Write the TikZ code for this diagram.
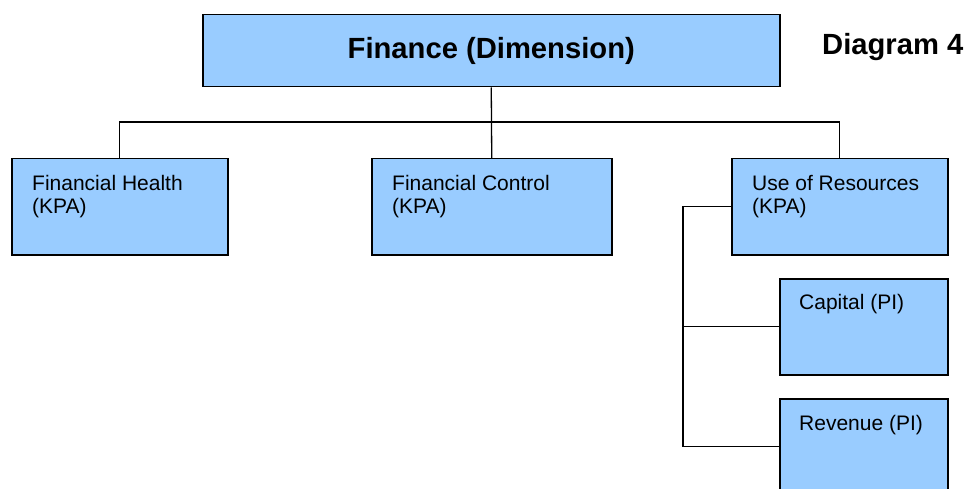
\documentclass[tikz,border=0pt]{standalone}
\usepackage{fontspec}
\setmainfont{Liberation Sans}
\definecolor{boxblue}{RGB}{153,204,255}
\begin{document}
\begin{tikzpicture}[x=1pt,y=-1pt,
  box/.style={draw=black,line width=1.5pt,fill=boxblue,rectangle,inner sep=0pt,anchor=north west,minimum height=96pt},
  kpabox/.style={box,minimum width=216pt},
  pibox/.style={box,minimum width=168pt},
  lbl/.style={anchor=north west,inner sep=0pt,align=left,font=\fontsize{21}{23.5}\selectfont},
  conn/.style={draw=black,line width=1.3pt},
  bigtxt/.style={font=\fontsize{29.2}{34}\selectfont\bfseries}]
\useasboundingbox (0,0) rectangle (977,489);
% top box
\node[box,minimum width=577pt,minimum height=72pt,bigtxt,anchor=north west] (top) at (202,14) {Finance (Dimension)};
\node[bigtxt,anchor=base west,inner sep=0pt] (diag) at (822,55) {Diagram 4};
% KPA boxes
\node[kpabox] (fh) at (11,158) {};
\node[kpabox,minimum width=240pt] (fc) at (371,158) {};
\node[kpabox] (uor) at (731,158) {};
% PI boxes
\node[pibox] (cap) at (779,278) {};
\node[pibox] (rev) at (779,398) {};
% labels
\node[lbl] (fhl) at ([xshift=21pt,yshift=-17pt]fh.north west) {Financial Health\\(KPA)};
\node[lbl] (fcl) at ([xshift=21pt,yshift=-17pt]fc.north west) {Financial Control\\(KPA)};
\node[lbl] (uorl) at ([xshift=21pt,yshift=-17pt]uor.north west) {Use of Resources\\(KPA)};
\node[lbl] (capl) at ([xshift=20pt,yshift=-16pt]cap.north west) {Capital (PI)};
\node[lbl] (revl) at ([xshift=20pt,yshift=-17pt]rev.north west) {Revenue (PI)};
% connectors
\draw[conn] (top.south) -- (fc.north);
\draw[conn] (fh.north) -- ++(0,-36) -| (uor.north);
\draw[conn] (uor.west) -- ++(-48,0) |- (cap.west);
\draw[conn] (uor.west) -- ++(-48,0) |- (rev.west);
\end{tikzpicture}
\end{document}
